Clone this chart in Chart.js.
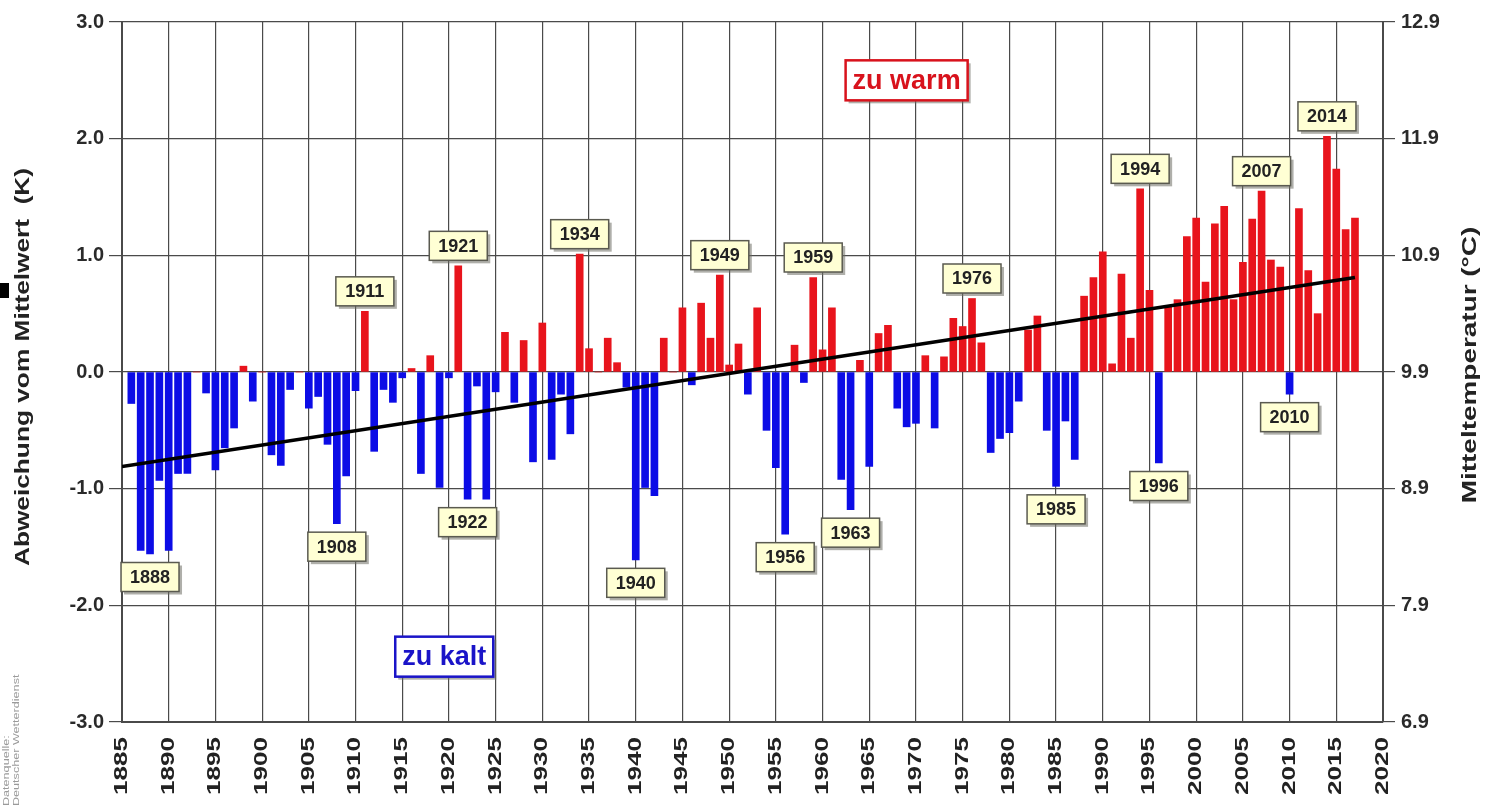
<!DOCTYPE html>
<html>
<head>
<meta charset="utf-8">
<script src="https://cdn.jsdelivr.net/npm/chart.js@4.4.1/dist/chart.umd.min.js"></script>
<style>
  html, body { margin: 0; padding: 0; background: #fff; }
  #wrap { width: 1488px; height: 812px; position: relative; }
</style>
</head>
<body>
<div id="wrap"><canvas id="tempChart"></canvas></div>
<script>
// Temperature anomaly per year (K), first value is 1886
const firstYear = 1886;
const anomalies = [
  -0.27, -1.53, -1.56, -0.93, -1.53, -0.87, -0.87, 0.00, -0.18, -0.84,   // 1886-1895
  -0.65, -0.48, 0.05, -0.25, 0.00, -0.71, -0.80, -0.15, 0.00, -0.31,     // 1896-1905
  -0.21, -0.62, -1.30, -0.89, -0.16, 0.52, -0.68, -0.15, -0.26, -0.05,   // 1906-1915
  0.03, -0.87, 0.14, -0.99, -0.05, 0.91, -1.09, -0.12, -1.09, -0.17,     // 1916-1925
  0.34, -0.26, 0.27, -0.77, 0.42, -0.75, -0.19, -0.53, 1.01, 0.20,       // 1926-1935
  0.00, 0.29, 0.08, -0.13, -1.61, -0.99, -1.06, 0.29, 0.00, 0.55,        // 1936-1945
  -0.11, 0.59, 0.29, 0.83, 0.06, 0.24, -0.19, 0.55, -0.50, -0.82,        // 1946-1955
  -1.39, 0.23, -0.09, 0.81, 0.19, 0.55, -0.92, -1.18, 0.10, -0.81,       // 1956-1965
  0.33, 0.40, -0.31, -0.47, -0.44, 0.14, -0.48, 0.13, 0.46, 0.39,        // 1966-1975
  0.63, 0.25, -0.69, -0.57, -0.52, -0.25, 0.36, 0.48, -0.50, -0.98,      // 1976-1985
  -0.42, -0.75, 0.65, 0.81, 1.03, 0.07, 0.84, 0.29, 1.57, 0.70,          // 1986-1995
  -0.78, 0.56, 0.62, 1.16, 1.32, 0.77, 1.27, 1.42, 0.62, 0.94,           // 1996-2005
  1.31, 1.55, 0.96, 0.90, -0.19, 1.40, 0.87, 0.50, 2.02, 1.74,           // 2006-2015
  1.22, 1.32                                                             // 2016-2017
];
const years = anomalies.map((v, i) => firstYear + i);

// linear trend end points
const trendYears = [1885, 2017];
const trendValues = [-0.81, 0.81];

// years with a label box
const labeledYears = [1888, 1908, 1911, 1921, 1922, 1934, 1940, 1949, 1956, 1959,
                      1963, 1976, 1985, 1994, 1996, 2007, 2010, 2014];

// big notes, placed in data coordinates
const notes = [
  { text: 'zu warm', year: 1969, value: 2.5, color: '#d8121c' },
  { text: 'zu kalt', year: 1919.5, value: -2.44, color: '#1a14c8' }
];

// tick labels
const leftTickLabels = ['-3.0', '-2.0', '-1.0', '0.0', '1.0', '2.0', '3.0'];
const rightTickLabels = ['6.9', '7.9', '8.9', '9.9', '10.9', '11.9', '12.9'];

const FONT = "'Liberation Sans', Arial, sans-serif";
const RED = '#e8141c';
const BLUE = '#0c0ce6';
const GRID = '#4a4a4a';

function stretchedText(ctx, text, x, y, sx, align) {
  ctx.save();
  ctx.translate(x, y);
  ctx.rotate(-Math.PI / 2);
  ctx.scale(sx, 1);
  ctx.textAlign = align;
  ctx.textBaseline = 'middle';
  ctx.fillText(text, 0, 0);
  ctx.restore();
}

function shadowBox(ctx, cx, cy, w, h, fill, stroke, lw) {
  ctx.fillStyle = 'rgba(110,110,100,0.55)';
  ctx.fillRect(cx - w / 2 + 3, cy - h / 2 + 3, w, h);
  ctx.fillStyle = fill;
  ctx.fillRect(cx - w / 2, cy - h / 2, w, h);
  ctx.strokeStyle = stroke;
  ctx.lineWidth = lw;
  ctx.strokeRect(cx - w / 2, cy - h / 2, w, h);
}

const decorations = {
  id: 'decorations',
  afterDraw(chart) {
    const ctx = chart.ctx;
    const x = chart.scales.x;
    const y = chart.scales.y;
    const area = chart.chartArea;

    // year label boxes
    labeledYears.forEach(yr => {
      const v = anomalies[yr - firstYear];
      const px = x.getPixelForValue(yr);
      const py = y.getPixelForValue(v) + (v >= 0 ? -20 : 23);
      shadowBox(ctx, px, py, 58, 29, '#ffffd4', '#5a5a50', 1.5);
      ctx.fillStyle = '#222';
      ctx.font = 'bold 18px ' + FONT;
      ctx.textAlign = 'center';
      ctx.textBaseline = 'middle';
      ctx.fillText(String(yr), px, py + 1);
    });

    // zu warm / zu kalt
    notes.forEach(n => {
      const px = x.getPixelForValue(n.year);
      const py = y.getPixelForValue(n.value);
      ctx.font = 'bold 27px ' + FONT;
      const w = ctx.measureText(n.text).width + 14;
      shadowBox(ctx, px, py, w, 40, '#ffffff', n.color, 2.5);
      ctx.fillStyle = n.color;
      ctx.textAlign = 'center';
      ctx.textBaseline = 'middle';
      ctx.fillText(n.text, px, py + 1);
    });

    // x tick labels, rotated
    ctx.fillStyle = '#222';
    ctx.font = 'bold 18px ' + FONT;
    x.ticks.forEach(t => {
      stretchedText(ctx, String(t.value), x.getPixelForValue(t.value), area.bottom + 15, 1.45, 'right');
    });

    // axis titles
    ctx.font = 'bold 21px ' + FONT;
    ctx.fillStyle = '#222';
    stretchedText(ctx, 'Abweichung vom Mittelwert  (K)', 23, 367, 1.25, 'center');
    stretchedText(ctx, 'Mitteltemperatur (°C)', 1470, 365, 1.33, 'center');

    // data source
    ctx.font = '9px ' + FONT;
    ctx.fillStyle = '#9a9a9a';
    stretchedText(ctx, 'Datenquelle:', 7, 806, 1.4, 'left');
    stretchedText(ctx, 'Deutscher Wetterdienst', 17, 806, 1.4, 'left');

    // small black mark on the left edge
    ctx.fillStyle = '#000';
    ctx.fillRect(0, 283, 9, 15);
  }
};

const ctx = document.getElementById('tempChart').getContext('2d');
new Chart(ctx, {
  data: {
    datasets: [
      {
        type: 'line',
        order: 0,
        data: trendYears.map((yr, i) => ({ x: yr, y: trendValues[i] })),
        borderColor: '#000',
        borderWidth: 3.5,
        pointRadius: 0,
        fill: false
      },
      {
        type: 'bar',
        order: 1,
        data: years.map((yr, i) => ({ x: yr, y: anomalies[i] })),
        backgroundColor: anomalies.map(v => v >= 0 ? RED : BLUE),
        barThickness: 7,
        borderWidth: 0
      }
    ]
  },
  options: {
    responsive: true,
    maintainAspectRatio: false,
    animation: false,
    layout: { padding: { top: 22, right: 0, left: 0, bottom: 0 } },
    plugins: {
      legend: { display: false },
      tooltip: { enabled: false }
    },
    scales: {
      x: {
        type: 'linear',
        min: 1885,
        max: 2020,
        offset: false,
        afterFit: s => { s.height = 90; },
        ticks: { stepSize: 5, color: 'rgba(0,0,0,0)', maxRotation: 0, autoSkip: false,
                 font: { size: 18, weight: 'bold', family: FONT } },
        grid: { color: GRID, lineWidth: 1.2, drawTicks: false, offset: false },
        border: { color: GRID, width: 2 }
      },
      y: {
        position: 'left',
        min: -3,
        max: 3,
        afterFit: s => { s.width = 122; },
        ticks: {
          stepSize: 1,
          padding: 5,
          color: '#2a2a2a',
          font: { size: 20, weight: 'bold', family: FONT },
          callback: (v, i) => leftTickLabels[i]
        },
        grid: { color: GRID, lineWidth: 1.2, tickLength: 13 },
        border: { color: GRID, width: 2 }
      },
      y2: {
        position: 'right',
        min: -3,
        max: 3,
        afterFit: s => { s.width = 105; },
        ticks: {
          stepSize: 1,
          padding: 6,
          color: '#2a2a2a',
          font: { size: 20, weight: 'bold', family: FONT },
          callback: (v, i) => rightTickLabels[i]
        },
        grid: { drawOnChartArea: false, color: GRID, lineWidth: 1.2, tickLength: 12 },
        border: { color: GRID, width: 2 }
      }
    }
  },
  plugins: [decorations]
});
</script>
</body>
</html>
